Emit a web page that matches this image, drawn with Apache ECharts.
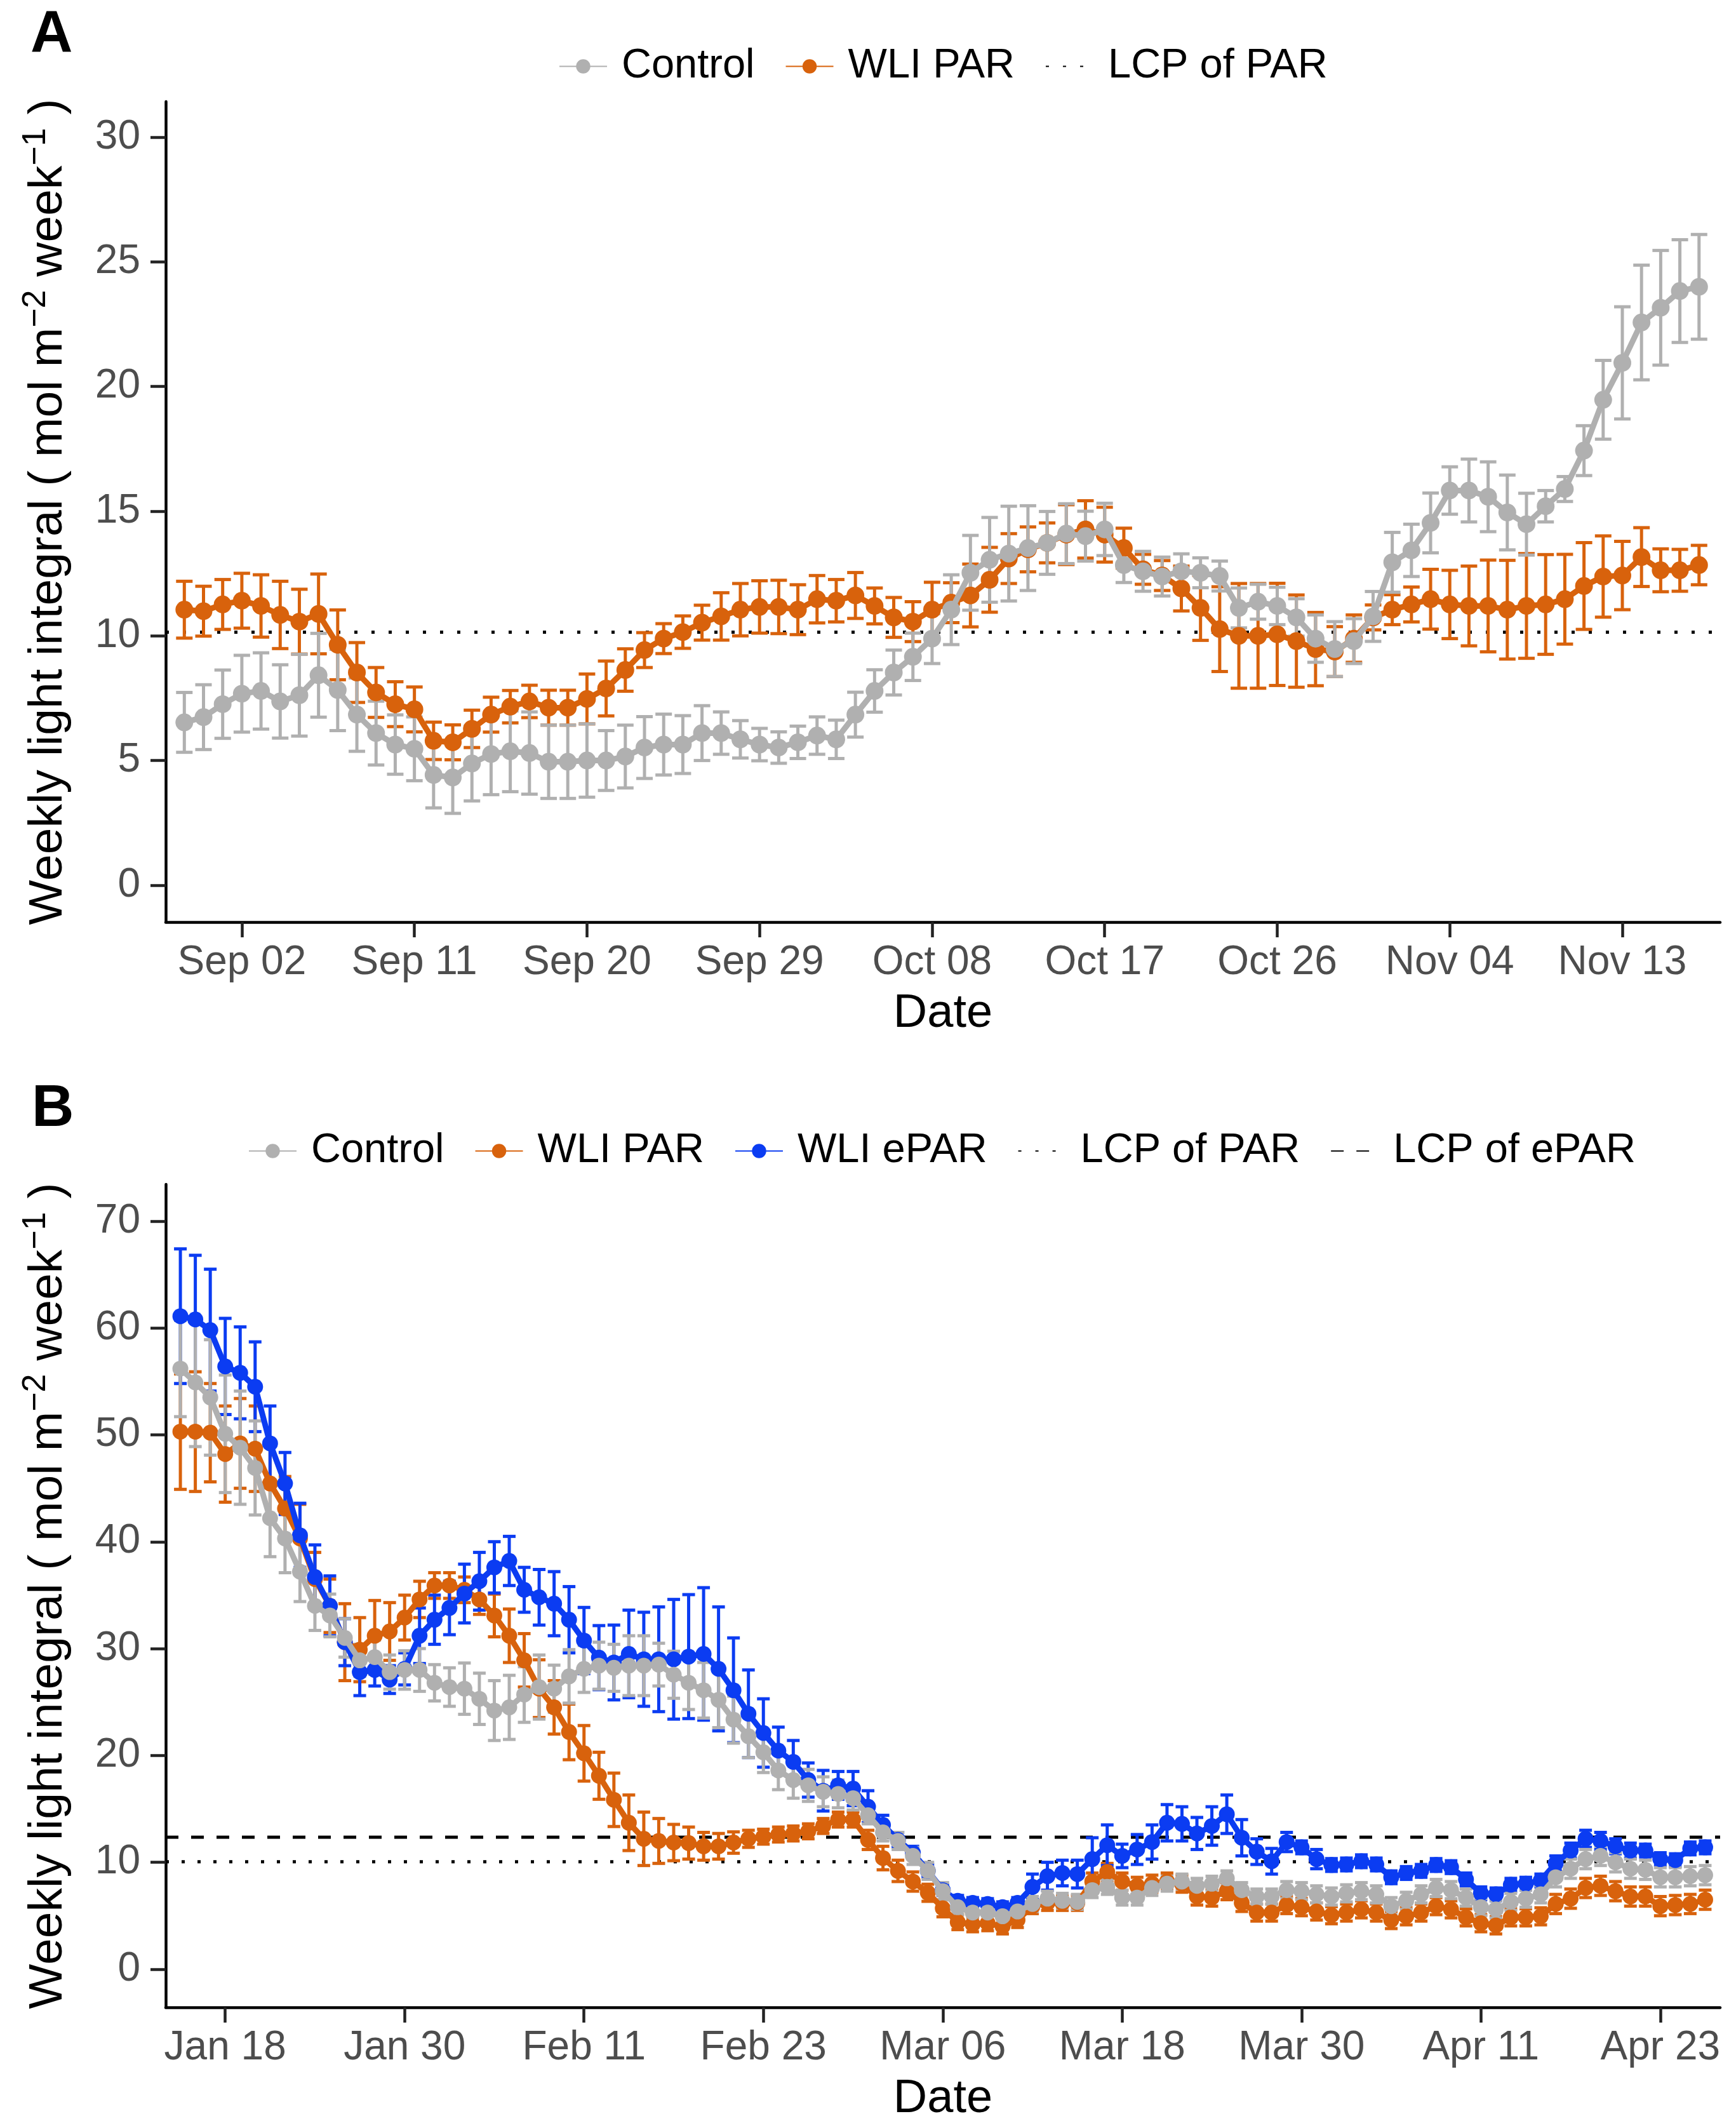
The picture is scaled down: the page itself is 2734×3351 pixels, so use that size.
<!DOCTYPE html>
<html>
<head>
<meta charset="utf-8">
<title>Weekly light integral</title>
<script src="https://cdn.jsdelivr.net/npm/echarts@6.0.0/dist/echarts.min.js"></script>
<style>
    html, body { margin: 0; padding: 0; background: #fff; }
    #main { width: 2734px; height: 3351px; }
</style>
</head>
<body>
<div id="main"></div>
<script>
// ---------- Panel A: Aug 30 - Nov 17, day 0 = Sep 02 ----------
const startDayA = -3
const tickDaysA = [0, 9, 18, 27, 36, 45, 54, 63, 72]
const tickLabelsA = ['Sep 02', 'Sep 11', 'Sep 20', 'Sep 29', 'Oct 08', 'Oct 17', 'Oct 26', 'Nov 04', 'Nov 13']
const yTicksA = [0, 5, 10, 15, 20, 25, 30]

const controlA = [6.53, 6.74, 7.26, 7.68, 7.79, 7.37, 7.62, 8.42, 7.83, 6.84,
    6.10, 5.64, 5.47, 4.42, 4.32, 4.88, 5.26, 5.37, 5.30, 4.95,
    4.95, 5.00, 5.00, 5.16, 5.52, 5.64, 5.64, 6.10, 6.10, 5.85,
    5.64, 5.52, 5.73, 6.00, 5.85, 6.84, 7.79, 8.53, 9.16, 9.89,
    11.05, 12.53, 13.05, 13.30, 13.52, 13.73, 14.10, 14.00, 14.27, 12.84,
    12.59, 12.38, 12.59, 12.53, 12.40, 11.12, 11.37, 11.20, 10.74, 9.89,
    9.47, 9.79, 10.78, 12.95, 13.43, 14.53, 15.83, 15.83, 15.58, 14.95,
    14.48, 15.20, 15.89, 17.43, 19.47, 20.95, 22.57, 23.16, 23.83, 24.00]
const controlErrA = [1.20, 1.30, 1.37, 1.54, 1.53, 1.47, 1.64, 1.68, 1.63, 1.47,
    1.28, 1.19, 1.28, 1.32, 1.44, 1.50, 1.63, 1.62, 1.65, 1.47,
    1.47, 1.47, 1.20, 1.26, 1.24, 1.22, 1.16, 1.10, 0.85, 0.75,
    0.65, 0.63, 0.65, 0.75, 0.77, 0.90, 0.85, 0.90, 0.95, 1.00,
    1.40, 1.50, 1.70, 1.90, 1.70, 1.26, 1.20, 1.00, 1.05, 0.70,
    0.80, 0.78, 0.70, 0.60, 0.60, 0.80, 0.70, 0.75, 0.75, 0.95,
    1.10, 0.90, 1.00, 1.20, 1.05, 1.20, 0.95, 1.26, 1.40, 1.50,
    1.24, 0.63, 0.50, 1.00, 1.58, 2.25, 2.30, 2.30, 2.06, 2.10]
const parA = [11.05, 10.99, 11.26, 11.41, 11.20, 10.84, 10.57, 10.88, 9.64, 8.53,
    7.73, 7.26, 7.05, 5.79, 5.73, 6.27, 6.84, 7.16, 7.37, 7.12,
    7.12, 7.47, 7.89, 8.63, 9.43, 9.89, 10.15, 10.53, 10.78, 11.05,
    11.16, 11.16, 11.05, 11.47, 11.41, 11.62, 11.20, 10.74, 10.57, 11.05,
    11.33, 11.62, 12.25, 13.10, 13.47, 13.73, 14.06, 14.27, 14.06, 13.52,
    12.67, 12.42, 11.90, 11.12, 10.27, 10.00, 10.00, 10.06, 9.79, 9.47,
    9.37, 9.89, 10.74, 11.05, 11.26, 11.47, 11.26, 11.20, 11.20, 11.05,
    11.20, 11.26, 11.47, 12.00, 12.38, 12.42, 13.16, 12.63, 12.63, 12.84]
const parErrA = [1.14, 1.00, 1.00, 1.10, 1.25, 1.35, 1.30, 1.60, 1.40, 1.20,
    1.00, 0.90, 0.90, 0.75, 0.70, 0.75, 0.70, 0.65, 0.65, 0.70,
    0.70, 1.00, 1.10, 0.85, 0.70, 0.60, 0.65, 0.70, 0.95, 1.05,
    1.05, 1.07, 1.00, 0.95, 0.85, 0.92, 0.72, 0.80, 0.80, 1.10,
    0.80, 1.26, 1.30, 1.00, 0.90, 0.80, 1.20, 1.15, 1.10, 0.80,
    0.60, 0.60, 0.90, 1.30, 1.70, 2.10, 2.10, 2.05, 1.85, 1.47,
    1.00, 0.95, 0.50, 0.60, 0.70, 1.20, 1.37, 1.60, 1.84, 1.98,
    2.10, 2.00, 1.80, 1.74, 1.63, 1.37, 1.18, 0.86, 0.84, 0.79]
const lcpParA = 10.15

// ---------- Panel B: Jan 15 - Apr 26, day 0 = Jan 18 ----------
const startDayB = -3
const tickDaysB = [0, 12, 24, 36, 48, 60, 72, 84, 96]
const tickLabelsB = ['Jan 18', 'Jan 30', 'Feb 11', 'Feb 23', 'Mar 06', 'Mar 18', 'Mar 30', 'Apr 11', 'Apr 23']
const yTicksB = [0, 10, 20, 30, 40, 50, 60, 70]

const controlB = [56.2, 54.9, 53.5, 50.1, 48.8, 46.9, 42.2, 40.3, 37.2, 34.0,
    33.1, 31.0, 28.9, 29.2, 27.8, 28.0, 28.0, 26.8, 26.4, 26.25,
    25.3, 24.2, 24.5, 25.7, 26.4, 26.25, 27.4, 28.1, 28.4, 28.2,
    28.4, 28.4, 28.5, 27.55, 26.8, 26.1, 25.2, 23.35, 21.8, 20.3,
    18.6, 17.7, 17.2, 16.6, 16.4, 16.0, 14.4, 12.8, 12.0, 10.6,
    9.2, 7.3, 5.8, 5.3, 5.3, 4.95, 5.4, 6.1, 6.6, 6.4,
    6.3, 7.4, 7.7, 6.7, 6.7, 7.6, 8.0, 8.2, 7.8, 8.0,
    8.5, 7.4, 6.8, 6.8, 7.4, 7.3, 7.0, 6.8, 7.1, 7.3,
    7.0, 5.9, 6.4, 7.0, 7.6, 7.4, 6.7, 5.8, 5.6, 6.3,
    6.6, 7.0, 8.6, 9.4, 10.3, 10.6, 10.0, 9.4, 9.3, 8.6,
    8.6, 8.7, 8.8]
const controlErrB = [4.5, 6.0, 5.4, 5.5, 5.3, 4.4, 3.6, 3.2, 2.8, 2.3,
    2.0, 1.8, 1.5, 1.6, 1.6, 1.8, 2.0, 1.7, 1.8, 2.4,
    2.4, 2.8, 3.0, 2.6, 3.0, 2.2, 2.5, 2.2, 2.2, 2.2,
    2.8, 2.8, 2.0, 2.2, 2.5, 2.6, 2.6, 2.2, 2.0, 1.9,
    1.8, 1.7, 1.5, 1.4, 1.3, 1.1, 0.8, 0.8, 0.8, 0.8,
    0.8, 0.8, 0.7, 0.7, 0.7, 0.7, 0.7, 0.7, 0.7, 0.7,
    0.7, 0.7, 0.7, 0.7, 0.7, 0.7, 0.7, 0.7, 0.7, 0.7,
    0.7, 0.7, 0.7, 0.7, 0.8, 0.8, 0.8, 0.8, 0.8, 0.8,
    0.8, 0.8, 0.8, 0.8, 0.8, 0.8, 0.8, 0.8, 0.8, 0.8,
    0.8, 0.8, 0.9, 0.9, 0.9, 0.9, 0.9, 0.9, 0.9, 0.9,
    0.9, 0.9, 0.9]
const parB = [50.3, 50.3, 50.2, 48.2, 49.2, 48.7, 45.45, 43.1, 40.3, 36.5,
    34.0, 30.6, 29.9, 31.2, 31.6, 32.9, 34.6, 35.9, 35.9, 35.5,
    34.6, 33.1, 31.2, 28.9, 26.25, 24.5, 22.2, 20.2, 18.1, 15.85,
    13.7, 12.2, 12.0, 11.85, 11.8, 11.5, 11.5, 11.85, 12.2, 12.4,
    12.6, 12.7, 12.9, 13.4, 14.0, 14.0, 12.1, 10.4, 9.2, 8.2,
    7.15, 5.7, 4.4, 4.2, 4.3, 4.0, 4.6, 5.9, 6.2, 6.2,
    6.2, 8.2, 9.1, 8.2, 7.8, 8.0, 8.2, 8.0, 6.8, 6.7,
    7.3, 6.2, 5.3, 5.3, 6.0, 5.8, 5.4, 5.05, 5.3, 5.6,
    5.3, 4.6, 4.95, 5.3, 5.9, 5.6, 4.85, 4.3, 4.1, 4.85,
    4.85, 4.95, 6.1, 6.6, 7.6, 7.8, 7.3, 6.8, 6.8, 5.9,
    6.0, 6.1, 6.5]
const parErrB = [5.4, 5.6, 4.6, 4.5, 4.2, 4.0, 3.5, 3.0, 3.2, 2.5,
    2.5, 3.6, 3.0, 3.3, 2.7, 2.1, 1.7, 1.2, 1.2, 1.2,
    1.4, 2.0, 2.5, 2.5, 2.7, 2.5, 2.6, 2.6, 2.2, 2.5,
    2.6, 2.5, 2.1, 1.7, 1.5, 1.3, 1.2, 1.0, 0.8, 0.7,
    0.7, 0.7, 0.7, 0.7, 0.7, 0.7, 0.9, 1.1, 1.0, 0.9,
    0.8, 0.8, 0.7, 0.7, 0.7, 0.7, 0.7, 0.7, 0.7, 0.7,
    0.7, 0.8, 0.8, 0.8, 0.8, 0.8, 0.8, 0.8, 0.8, 0.8,
    0.8, 0.8, 0.8, 0.8, 0.8, 0.8, 0.8, 0.8, 0.8, 0.8,
    0.8, 0.8, 0.8, 0.8, 0.8, 0.8, 0.8, 0.8, 0.8, 0.8,
    0.8, 0.8, 0.9, 0.9, 0.9, 0.9, 0.9, 0.9, 0.9, 0.9,
    0.9, 0.9, 0.9]
const eparB = [61.1, 60.8, 59.8, 56.4, 55.8, 54.5, 49.2, 45.45, 40.6, 36.7,
    34.0, 30.6, 27.8, 28.0, 27.1, 28.1, 31.2, 32.7, 33.8, 35.15,
    36.3, 37.6, 38.2, 35.5, 34.8, 34.2, 32.7, 30.75, 29.15, 28.7,
    29.5, 29.0, 29.0, 29.0, 29.25, 29.5, 28.1, 26.1, 23.9, 22.1,
    20.45, 19.4, 17.7, 16.7, 17.2, 16.9, 15.2, 13.5, 12.1, 10.9,
    9.2, 7.4, 6.4, 6.2, 6.1, 5.8, 6.2, 7.7, 8.7, 9.0,
    8.9, 10.3, 11.6, 10.6, 11.2, 11.9, 13.7, 13.6, 12.7, 13.4,
    14.5, 12.3, 11.0, 10.1, 11.9, 11.4, 10.3, 9.75, 9.8, 10.1,
    9.8, 8.6, 9.0, 9.2, 9.75, 9.55, 8.4, 7.1, 7.0, 7.9,
    8.0, 8.3, 9.9, 11.1, 12.2, 12.0, 11.5, 11.1, 11.1, 10.3,
    10.2, 11.3, 11.4]
const eparErrB = [6.3, 6.0, 5.7, 4.5, 4.3, 4.2, 3.5, 2.9, 3.0, 3.0,
    2.8, 2.2, 2.2, 1.5, 1.3, 1.5, 2.6, 2.3, 2.5, 2.75,
    2.7, 2.4, 2.3, 2.1, 2.6, 3.0, 3.1, 3.1, 3.0, 3.5,
    4.1, 4.4, 4.9, 5.6, 5.8, 6.2, 5.8, 4.9, 4.1, 3.2,
    2.2, 2.0, 1.6, 1.9, 1.3, 1.6, 1.5, 0.9, 0.7, 0.6,
    0.6, 0.5, 0.5, 0.5, 0.5, 0.5, 0.5, 1.2, 1.3, 1.2,
    1.3, 2.0, 1.9, 1.1, 1.4, 1.6, 1.7, 1.6, 1.5, 1.8,
    1.8, 1.7, 1.2, 1.2, 0.9, 0.6, 0.9, 0.6, 0.6, 0.6,
    0.6, 0.6, 0.6, 0.6, 0.6, 0.6, 0.6, 0.6, 0.6, 0.6,
    0.6, 0.6, 0.7, 0.7, 0.8, 0.8, 0.7, 0.7, 0.6, 0.6,
    0.6, 0.6, 0.6]
const lcpParB = 10.05
const lcpEparB = 12.35

// 颜色 / 字体
const GREY = '#b0b0b0'
const ORANGE = '#d8620c'
const BLUE = '#0b3cf2'
const FONT = 'Liberation Sans'

const rangeA = { xmin: -3.97, xmax: 77.1, ymin: -1.48, ymax: 31.43 }
const rangeB = { xmin: -3.98, xmax: 100.0, ymin: -3.57, ymax: 73.44 }

// 平均值折线 + 点
function meanSeries(name, values, start, color, idx, size, z) {
    return {
        type: 'line',
        name: name,
        xAxisIndex: idx,
        yAxisIndex: idx,
        data: values.map((v, i) => [start + i, v]),
        symbol: 'circle',
        symbolSize: size,
        showSymbol: true,
        lineStyle: { color: color, width: 9 },
        itemStyle: { color: color },
        emphasis: { disabled: true },
        z: z
    }
}

// 误差线 (自定义系列)
function errorSeries(values, errs, start, color, idx, capHalf) {
    return {
        type: 'custom',
        name: 'err',
        xAxisIndex: idx,
        yAxisIndex: idx,
        data: values.map((v, i) => [start + i, v - errs[i], v + errs[i]]),
        encode: { x: 0, y: [1, 2] },
        clip: true,
        z: 1,
        renderItem: function (params, api) {
            const x = api.value(0)
            const top = api.coord([x, api.value(2)])
            const bot = api.coord([x, api.value(1)])
            const st = { stroke: color, lineWidth: 5 }
            return {
                type: 'group',
                children: [
                    { type: 'line', shape: { x1: top[0], y1: top[1], x2: bot[0], y2: bot[1] }, style: st },
                    { type: 'line', shape: { x1: top[0] - capHalf, y1: top[1], x2: top[0] + capHalf, y2: top[1] }, style: st },
                    { type: 'line', shape: { x1: bot[0] - capHalf, y1: bot[1], x2: bot[0] + capHalf, y2: bot[1] }, style: st }
                ]
            }
        }
    }
}

// 水平参考线 (LCP)，点设为透明，图例里只剩线
function lcpSeries(name, value, range, idx, dash) {
    return {
        type: 'line',
        name: name,
        xAxisIndex: idx,
        yAxisIndex: idx,
        data: [[range.xmin, value], [range.xmax, value]],
        symbol: 'none',
        lineStyle: { color: '#000', width: 5, type: dash, cap: 'butt' },
        itemStyle: { color: 'rgba(0,0,0,0)' },
        emphasis: { disabled: true },
        z: 0
    }
}

function xAxisOf(idx, range, days, labels) {
    return {
        type: 'value',
        gridIndex: idx,
        min: range.xmin,
        max: range.xmax,
        name: 'Date',
        nameLocation: 'middle',
        nameGap: 108,
        nameTextStyle: { fontSize: 74, color: '#000', fontFamily: FONT },
        splitLine: { show: false },
        axisLine: { onZero: false, lineStyle: { color: '#000', width: 4.5 } },
        axisTick: { customValues: days, length: 24, lineStyle: { color: '#222', width: 4.5 } },
        axisLabel: {
            customValues: days,
            margin: 32,
            fontSize: 64,
            color: '#4d4d4d',
            fontFamily: FONT,
            formatter: v => labels[days.indexOf(v)]
        }
    }
}

function yAxisOf(idx, range, ticks) {
    return {
        type: 'value',
        gridIndex: idx,
        min: range.ymin,
        max: range.ymax,
        name: '{t|Weekly light integral ( mol m}{s|−2}{t| week}{s|−1}{t| )}',
        nameLocation: 'middle',
        nameRotate: 90,
        nameGap: 140,
        nameTextStyle: {
            rich: {
                t: { fontSize: 75, color: '#000', fontFamily: FONT, lineHeight: 90 },
                s: { fontSize: 52, color: '#000', fontFamily: FONT, lineHeight: 60, verticalAlign: 'top' }
            }
        },
        splitLine: { show: false },
        axisLine: { onZero: false, lineStyle: { color: '#000', width: 4.5 } },
        axisTick: { customValues: ticks, length: 24, lineStyle: { color: '#222', width: 4.5 } },
        axisLabel: {
            customValues: ticks,
            margin: 40,
            fontSize: 64,
            color: '#4d4d4d',
            fontFamily: FONT
        }
    }
}

const legendBase = {
    orient: 'horizontal',
    itemWidth: 75,
    itemHeight: 28,
    itemGap: 48,
    padding: 0,
    selectedMode: false,
    textStyle: { fontSize: 65, color: '#000', fontFamily: FONT, padding: [0, 0, 0, 18] }
}

const chart = echarts.init(document.getElementById('main'))

const option = {
    animation: false,
    backgroundColor: '#fff',
    grid: [
        { left: 261, top: 160, width: 2448, height: 1292 },
        { left: 261, top: 1865, width: 2448, height: 1296 }
    ],
    xAxis: [
        xAxisOf(0, rangeA, tickDaysA, tickLabelsA),
        xAxisOf(1, rangeB, tickDaysB, tickLabelsB)
    ],
    yAxis: [
        yAxisOf(0, rangeA, yTicksA),
        yAxisOf(1, rangeB, yTicksB)
    ],
    legend: [
        Object.assign({}, legendBase, { left: 880, top: 72, data: ['Control', 'WLI PAR', 'LCP of PAR'] }),
        Object.assign({}, legendBase, { left: 391, top: 1780, data: ['Control', 'WLI PAR', 'WLI ePAR', 'LCP of PAR', 'LCP of ePAR'] })
    ],
    graphic: [
        { type: 'text', left: 48, top: 10, style: { text: 'A', fontSize: 92, fontWeight: 'bold', fontFamily: FONT, fill: '#000' } },
        { type: 'text', left: 50, top: 1702, style: { text: 'B', fontSize: 92, fontWeight: 'bold', fontFamily: FONT, fill: '#000' } }
    ],
    series: [
        // 面板 A
        lcpSeries('LCP of PAR', lcpParA, rangeA, 0, [5, 22]),
        errorSeries(parA, parErrA, startDayA, ORANGE, 0, 13),
        errorSeries(controlA, controlErrA, startDayA, GREY, 0, 13),
        meanSeries('WLI PAR', parA, startDayA, ORANGE, 0, 28, 3),
        meanSeries('Control', controlA, startDayA, GREY, 0, 28, 5),
        // 面板 B
        lcpSeries('LCP of PAR', lcpParB, rangeB, 1, [5, 20]),
        lcpSeries('LCP of ePAR', lcpEparB, rangeB, 1, [20, 20]),
        errorSeries(parB, parErrB, startDayB, ORANGE, 1, 10),
        errorSeries(eparB, eparErrB, startDayB, BLUE, 1, 10),
        errorSeries(controlB, controlErrB, startDayB, GREY, 1, 10),
        meanSeries('WLI PAR', parB, startDayB, ORANGE, 1, 25, 3),
        meanSeries('WLI ePAR', eparB, startDayB, BLUE, 1, 25, 4),
        meanSeries('Control', controlB, startDayB, GREY, 1, 25, 5)
    ]
}

chart.setOption(option)

window.addEventListener('resize', () => {
    chart.resize()
})
</script>
</body>
</html>
